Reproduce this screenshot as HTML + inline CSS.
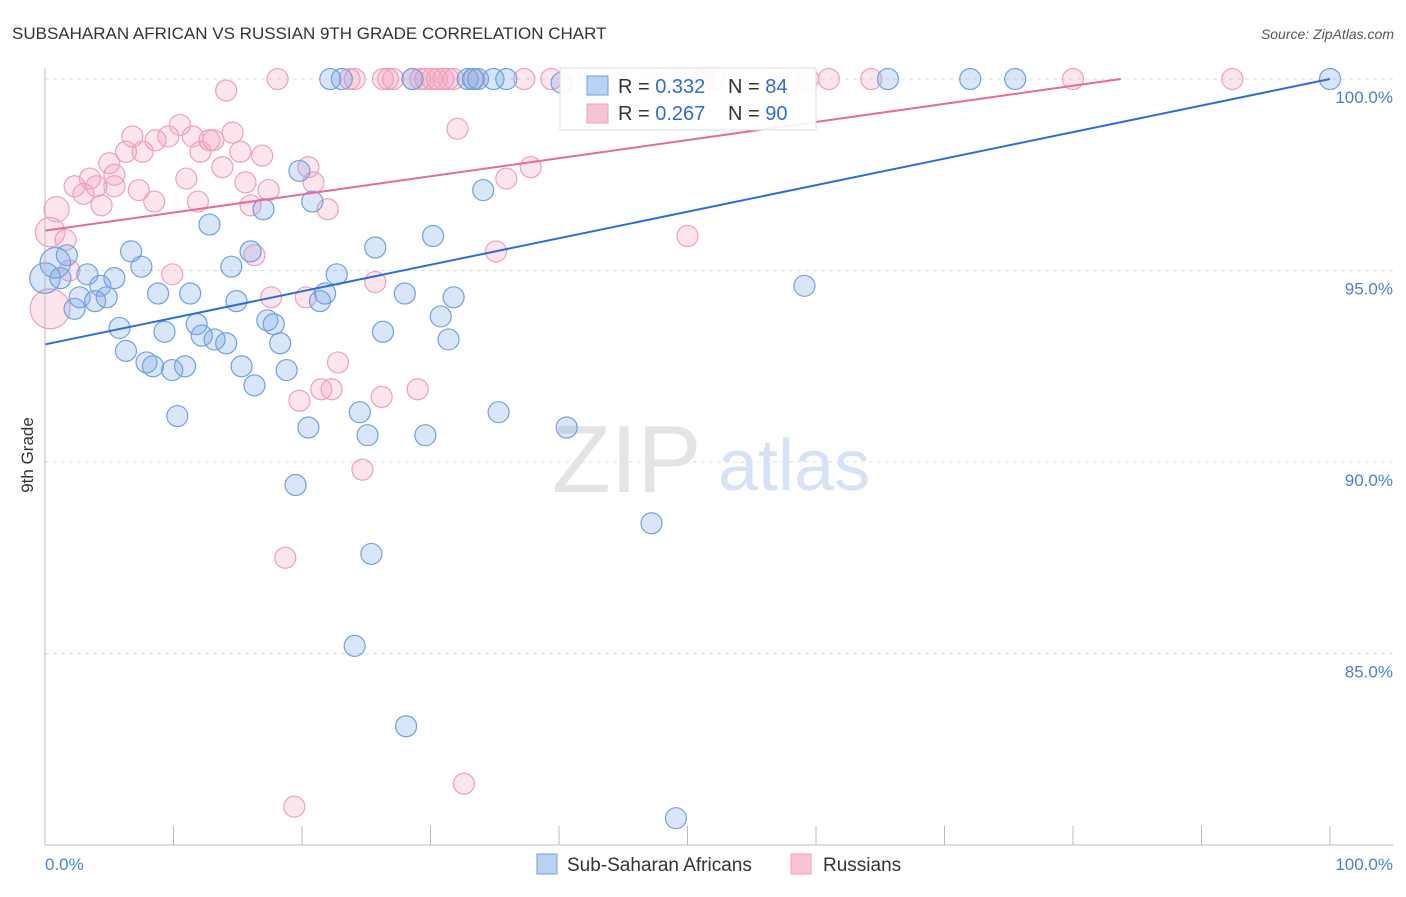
<!DOCTYPE html>
<html><head><meta charset="utf-8"><style>
body{margin:0;background:#fff;font-family:"Liberation Sans",sans-serif}
svg text{font-family:"Liberation Sans",sans-serif}
</style></head><body>
<svg id="chart" width="1406" height="892" xmlns="http://www.w3.org/2000/svg">
<text x="12" y="39" font-size="17" fill="#333">SUBSAHARAN AFRICAN VS RUSSIAN 9TH GRADE CORRELATION CHART</text>
<text x="1394" y="39" font-size="14" fill="#555" font-style="italic" text-anchor="end">Source: ZipAtlas.com</text>
<g id="grid"></g>
<g>
<text x="552" y="492" font-size="96" fill="#e4e4e4" font-family="Liberation Serif">ZIP</text>
<text x="718" y="490" font-size="72" fill="#d6e2f5">atlas</text>
</g>
<g id="points"></g>
<g id="lines"></g>
<line x1="45" y1="68" x2="45" y2="845" stroke="#bbb" stroke-width="1"/>
<line x1="45" y1="845" x2="1393" y2="845" stroke="#bbb" stroke-width="1"/>
<g id="xticks"></g>
<text x="45" y="870" font-size="17" fill="#4a7fd6">0.0%</text>
<text x="1393" y="870" font-size="17" fill="#4a7fd6" text-anchor="end">100.0%</text>
<text transform="translate(33,455) rotate(-90)" font-size="17" fill="#333" text-anchor="middle">9th Grade</text>
<g>
<rect x="560" y="68" width="256" height="62" fill="#fff" fill-opacity="0.9" stroke="#ddd"/>
<rect x="587" y="76" width="21" height="19" fill="#b9d1f3" stroke="#6fa0e0"/>
<text x="618" y="93" font-size="20" fill="#333">R = <tspan fill="#2a6fd6">0.332</tspan></text>
<text x="728" y="93" font-size="20" fill="#333">N = <tspan fill="#2a6fd6">84</tspan></text>
<rect x="587" y="104" width="21" height="19" fill="#f8c4d4" stroke="#eea0bb"/>
<text x="618" y="120" font-size="20" fill="#333">R = <tspan fill="#2a6fd6">0.267</tspan></text>
<text x="728" y="120" font-size="20" fill="#333">N = <tspan fill="#2a6fd6">90</tspan></text>
</g>
<g>
<rect x="537" y="854" width="20" height="20" fill="#b9d1f3" stroke="#6fa0e0"/>
<text x="567" y="871" font-size="19" fill="#333">Sub-Saharan Africans</text>
</g>
<g>
<rect x="791" y="854" width="20" height="20" fill="#f8c4d4" stroke="#eea0bb"/>
<text x="823" y="871" font-size="19" fill="#333">Russians</text>
</g>
</svg>
<script>
const yTicks=[100,95,90,85];
const yTickLabels=["100.0%","95.0%","90.0%","85.0%"];
const xTicks=[0,10,20,30,40,50,60,70,80,90,100];
const blueX=[0,0.8,22.2,23.1,28.6,32.9,33.3,33.7,34.9,35.9,40.2,65.6,72.0,75.5,100,19.8,34.1,17.0,20.8,12.8,30.2,25.7,6.7,16.0,1.7,7.5,14.5,22.7,3.3,5.4,1.2,4.3,59.1,8.8,11.3,28.0,4.8,2.7,3.9,14.9,21.8,21.4,31.8,2.3,30.8,5.8,11.8,17.3,17.8,9.3,26.3,12.2,13.2,14.1,18.3,31.4,6.3,7.9,8.4,9.9,10.9,15.3,18.8,16.3,10.3,24.5,35.3,20.5,25.1,29.6,40.6,19.5,47.2,25.4,24.1,28.1,49.1];
const blueY=[94.8,95.2,100,100,100,100,100,100,100,100,99.9,100,100,100,100,97.6,97.1,96.6,96.8,96.2,95.9,95.6,95.5,95.5,95.4,95.1,95.1,94.9,94.9,94.8,94.8,94.6,94.6,94.4,94.4,94.4,94.3,94.3,94.2,94.2,94.4,94.2,94.3,94.0,93.8,93.5,93.6,93.7,93.6,93.4,93.4,93.3,93.2,93.1,93.1,93.2,92.9,92.6,92.5,92.4,92.5,92.5,92.4,92.0,91.2,91.3,91.3,90.9,90.7,90.7,90.9,89.4,88.4,87.6,85.2,83.1,80.7];
const blueSize=[1.45,1.45];
const pinkX=[0.4,0.4,0.9,18.1,23.7,24.1,26.3,26.7,27.1,28.6,29.2,29.6,30.1,30.5,31.0,31.4,31.8,33.4,37.3,39.4,42.3,44.1,47.2,49.1,51.4,52.1,59.4,61.0,64.3,80.0,92.4,14.1,10.5,14.6,32.1,6.8,8.6,9.6,11.5,12.8,13.1,6.3,7.6,12.1,15.2,5.0,13.8,16.9,20.5,37.8,2.3,4.0,5.4,3.5,5.4,11.0,7.3,15.6,17.4,20.9,35.9,3.0,4.4,8.5,11.9,16.0,22.0,1.6,50.0,35.1,16.3,1.9,9.9,25.7,17.6,20.3,22.8,21.5,22.3,19.8,26.2,29.0,24.7,18.7,19.4,32.6];
const pinkY=[94.0,96.0,96.6,100,100,100,100,100,100,100,100,100,100,100,100,100,100,100,100,100,100,100,100,100,100,100,100,100,100,100,100,99.7,98.8,98.6,98.7,98.5,98.4,98.5,98.5,98.4,98.4,98.1,98.1,98.1,98.1,97.8,97.7,98.0,97.7,97.7,97.2,97.2,97.2,97.4,97.5,97.4,97.1,97.3,97.1,97.3,97.4,97.0,96.7,96.8,96.8,96.7,96.6,95.8,95.9,95.5,95.4,95.0,94.9,94.7,94.3,94.3,92.6,91.9,91.9,91.6,91.7,91.9,89.8,87.5,81.0,81.6];
const pinkSize=[1.9,1.4,1.2];
const blueTrend=[93.07,100];
const pinkTrend=[96.04,100.77];
const NS="http://www.w3.org/2000/svg";
const X0=45,X1=1330,Y0=845,Y1=79,YMIN=80,YMAX=100;
function sx(v){return X0+(v/100)*(X1-X0);}
function sy(v){return Y0-(v-YMIN)/(YMAX-YMIN)*(Y0-Y1);}
function mk(tag,attrs,parent){const e=document.createElementNS(NS,tag);for(const k in attrs)e.setAttribute(k,attrs[k]);parent.appendChild(e);return e;}
const grid=document.getElementById('grid');
yTicks.forEach((t,i)=>{
  const l=mk('line',{x1:X0,x2:1393,y1:sy(t),y2:sy(t),stroke:'#ddd','stroke-dasharray':'4,4'},grid);
  
  
  const tx=mk('text',{x:1393,y:sy(t)+24,'font-size':17,fill:'#4a7fd6','text-anchor':'end'},grid);
  tx.textContent=yTickLabels[i];
  
  
});
const xt=document.getElementById('xticks');
xTicks.forEach(t=>{
  const l=mk('line',{x1:sx(t),x2:sx(t),y1:826,y2:845,stroke:'#bbb'},xt);
  
  
});
const pts=document.getElementById('points');
function drawSeries(xs,ys,sz,fill,stroke,name){
  xs.forEach((x,i)=>{
    const r=10.5*(sz[i]||1);
    const c=mk('circle',{cx:sx(x),cy:sy(ys[i]),r:r,fill:fill,stroke:stroke,'stroke-width':1.2},pts);
    
    
  });
}
drawSeries(pinkX,pinkY,pinkSize,'rgba(245,160,190,0.28)','#eea0bb','russian-point');
drawSeries(blueX,blueY,blueSize,'rgba(120,165,230,0.28)','#6fa0e0','subsaharan-point');
const lines=document.getElementById('lines');
function trend(tr,color,name){
  let x2=100,y2=tr[1];
  if(y2>100){x2=(100-tr[0])/(tr[1]-tr[0])*100;y2=100;}
  const l=mk('line',{x1:sx(0),y1:sy(tr[0]),x2:sx(x2),y2:sy(y2),stroke:color,'stroke-width':2},lines);
  
  
}
trend(blueTrend,'#2a6fd6','subsaharan-trend-line');
trend(pinkTrend,'#e86a96','russian-trend-line');
</script>
</body></html>
